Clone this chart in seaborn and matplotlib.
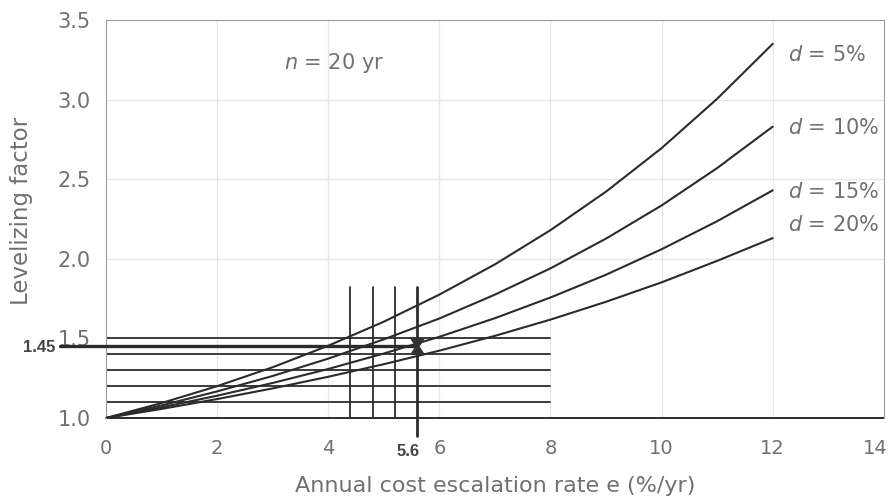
import numpy as np
import pandas as pd
import seaborn as sns
import matplotlib.pyplot as plt
import matplotlib.transforms as mtransforms
from matplotlib.path import Path

# escalation rate e (%/yr) and levelizing factor, n = 20 yr
e_vals = [0, 1, 2, 3, 4, 5, 6, 7, 8, 9, 10, 11, 12]
lf_d5 = [1.0, 1.094, 1.200, 1.319, 1.454, 1.605, 1.775, 1.965, 2.180, 2.422, 2.695, 3.005, 3.35]
lf_d10 = [1.0, 1.079, 1.167, 1.264, 1.373, 1.494, 1.625, 1.775, 1.940, 2.127, 2.335, 2.570, 2.83]
lf_d15 = [1.0, 1.067, 1.140, 1.220, 1.308, 1.405, 1.510, 1.627, 1.757, 1.900, 2.060, 2.236, 2.43]
lf_d20 = [1.0, 1.057, 1.119, 1.186, 1.259, 1.338, 1.423, 1.516, 1.618, 1.730, 1.852, 1.987, 2.13]
d_labels = ['d = 5%', 'd = 10%', 'd = 15%', 'd = 20%']

# construction lines of the graphical reading
h_levels = [1.1, 1.2, 1.3, 1.4, 1.5]
h_end = 8
v_positions = [4.4, 4.8, 5.2]
v_top = 1.82
answer_e = 5.6
answer_lf = 1.45

df = pd.DataFrame({
    'e': e_vals * 4,
    'lf': lf_d5 + lf_d10 + lf_d15 + lf_d20,
    'd': sum([[lab] * len(e_vals) for lab in d_labels], []),
})

sns.set_theme(style='white')
plt.rcParams['font.family'] = ['DejaVu Sans']
plt.rcParams['mathtext.fontset'] = 'dejavusans'

ink = '#2b2b2b'
txt = '#707070'

fig = plt.figure(figsize=(8.94, 5), dpi=100)
ax = fig.add_axes([0.1186, 0.164, 0.870, 0.796])

sns.lineplot(data=df, x='e', y='lf', hue='d', palette=[ink] * 4, linewidth=1.5,
             legend=False, ax=ax, zorder=3)

# horizontal guide lines
for lv in h_levels:
    ax.plot([0, h_end], [lv, lv], color=ink, lw=1.3, zorder=2)
ax.plot([0, h_end * 1.75], [1.0, 1.0], color=ink, lw=1.4, zorder=2, clip_on=False)

# vertical guide lines
for vp in v_positions:
    ax.plot([vp, vp], [1.0, v_top], color=ink, lw=1.3, zorder=2)
ax.plot([answer_e, answer_e], [0.89, v_top], color=ink, lw=2.0, zorder=4, clip_on=False)

# thick reading line for the answer
ax.plot([-0.83, answer_e], [answer_lf, answer_lf], color=ink, lw=2.4, zorder=4, clip_on=False)

hourglass = Path([(-1, 1.2), (1, 1.2), (0.2, 0), (1, -1.2), (-1, -1.2), (-0.2, 0), (-1, 1.2)],
                 [Path.MOVETO] + [Path.LINETO] * 5 + [Path.CLOSEPOLY])
ax.plot([answer_e], [answer_lf], marker=hourglass, markersize=11, color='#333333', zorder=5)

ax.text(-0.92, answer_lf - 0.01, '1.45', ha='right', va='center', fontsize=12,
        fontweight='bold', color='#444444', clip_on=False, family='Liberation Sans')
ax.text(answer_e + 0.05, 0.79, '5.6', ha='right', va='center', fontsize=12,
        fontweight='bold', color='#444444', clip_on=False, family='Liberation Sans')

ax.text(3.2, 3.23, r'$n$ = 20 yr', ha='left', va='center', fontsize=15, color=txt)

label_y = [3.28, 2.82, 2.42, 2.21]
for lab, ly in zip(d_labels, label_y):
    ax.text(12.28, ly, r'$d$' + lab[1:], ha='left', va='center', fontsize=15, color=txt)

ax.set_xlim(0, 14)
ax.set_ylim(1.0, 3.5)
ax.set_xticks([0, 2, 4, 6, 8, 10, 12, 14])
ax.set_xticklabels(['0', '2', '4', '6', '8', '10', '12', '14'])
ax.set_yticks([1.0, 1.5, 2.0, 2.5, 3.0, 3.5])
ax.set_yticklabels(['1.0', '1.5', '2.0', '2.5', '3.0', '3.5'])

for g in [2, 4, 6, 8, 10, 12]:
    ax.axvline(g, color='#e6e6e6', lw=0.9, zorder=0)
for g in [2.0, 2.5, 3.0]:
    ax.axhline(g, color='#e6e6e6', lw=0.9, zorder=0)

ax.tick_params(axis='both', colors='#bbbbbb', labelcolor=txt, length=4, width=0.8)
ax.tick_params(axis='x', pad=11, labelsize=14)
ax.tick_params(axis='y', pad=7, labelsize=15)
ax.set_xlabel('Annual cost escalation rate e (%/yr)', fontsize=16, color=txt)
ax.set_ylabel('Levelizing factor', fontsize=16.5, color=txt)
ax.xaxis.set_label_coords(0.5, -0.145)
ax.yaxis.set_label_coords(-0.094, 0.52)

for side in ['left', 'top', 'right']:
    ax.spines[side].set_color('#9a9a9a')
    ax.spines[side].set_linewidth(0.8)
ax.spines['bottom'].set_visible(False)

# the last tick label sits against the page edge, nudge it inwards
last = ax.get_xticklabels()[-1]
last.set_transform(last.get_transform() + mtransforms.ScaledTranslation(-6 / 72, 0, fig.dpi_scale_trans))

fig.savefig('out.png', dpi=100)
